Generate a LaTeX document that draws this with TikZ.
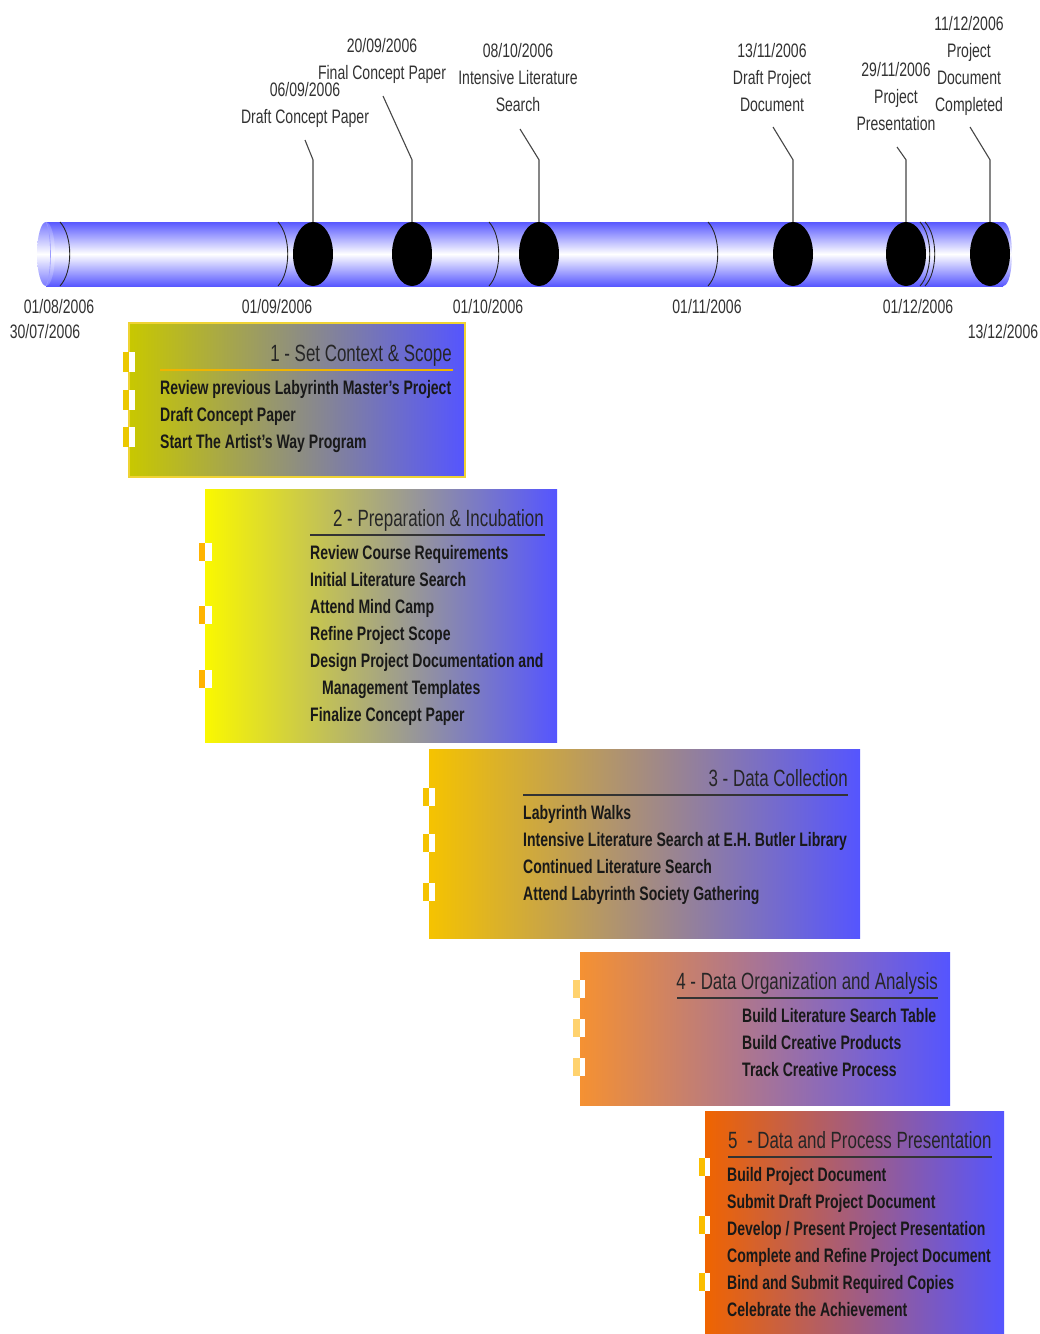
\documentclass[tikz,border=0pt]{standalone}
\usepackage{fontspec}
\newfontfamily\nar{Liberation Sans}[FakeStretch=0.72]
\usetikzlibrary{shapes.geometric}
\definecolor{cylblue}{RGB}{88,88,255}
\definecolor{boxblue}{RGB}{85,85,255}
\definecolor{leftA}{RGB}{200,200,0}
\definecolor{leftB}{RGB}{250,248,0}
\definecolor{leftC}{RGB}{245,195,0}
\definecolor{leftD}{RGB}{245,145,50}
\definecolor{leftE}{RGB}{240,100,0}
\definecolor{tabA}{RGB}{235,200,0}
\definecolor{tabB}{RGB}{255,180,0}
\definecolor{tabC}{RGB}{245,195,0}
\definecolor{tabD}{RGB}{255,210,110}
\definecolor{tabE}{RGB}{250,190,0}
\definecolor{linegray}{RGB}{70,70,70}
\definecolor{txtgray}{RGB}{50,50,50}
\definecolor{uline1}{RGB}{240,180,0}
\begin{document}
\begin{tikzpicture}[x=1pt,y=-1pt,
  lbl/.style={font=\nar\fontsize{19.5}{27}\selectfont, text=txtgray, align=center, inner sep=0pt},
  datelbl/.style={font=\nar\fontsize{19.5}{27}\selectfont, text=txtgray, inner sep=0pt},
  milestone/.style={ellipse, fill=black, minimum width=40pt, minimum height=64pt, inner sep=0pt},
  leader/.style={draw=linegray, line width=1.1pt},
  arcline/.style={draw=black!85, line width=0.9pt},
  ttl/.style={font=\nar\fontsize{23.5}{28}\selectfont, text=black!85, inner sep=0pt},
  items/.style={font=\nar\bfseries\fontsize{19.5}{27}\selectfont, text=black!90, align=left, inner sep=0pt, anchor=north west},
  uline/.style={line width=1.6pt}
]
\useasboundingbox (0,0) rectangle (1040,1334);
\fill[white] (0,0) rectangle (1040,1334);

% ---------- cylinder ----------
\shade[top color=cylblue, bottom color=cylblue, middle color=white] (46,222) rectangle (1003,286);
\shade[top color=cylblue, bottom color=cylblue, middle color=white]
  (1003,222) .. controls (1015,222) and (1015,286) .. (1003,286) -- cycle;
\shade[top color=cylblue!80, bottom color=cylblue!80, middle color=white]
  (46,254) ellipse [x radius=9, y radius=32];
\draw[cylblue!60!white, line width=0.6pt] (46,222) .. controls (52,232) and (52,276) .. (46,286);

% month arcs
\foreach \ax in {60,278,489,708,920}{
  \draw[arcline] (\ax,222) .. controls (\ax+13,236) and (\ax+13,272) .. (\ax,286);
}
\draw[arcline] (925,222) .. controls (938,236) and (938,272) .. (925,286);

% ---------- milestones ----------
\node[milestone] (m1) at (313,254) {};
\node[milestone] (m2) at (412,254) {};
\node[milestone] (m3) at (539,254) {};
\node[milestone] (m4) at (793,254) {};
\node[milestone] (m5) at (906,254) {};
\node[milestone] (m6) at (990,254) {};

\node[lbl, anchor=north] (L1) at (305,82) {06/09/2006\\Draft Concept Paper};
\node[lbl, anchor=north] (L2) at (382,38) {20/09/2006\\Final Concept Paper};
\node[lbl, anchor=north] (L3) at (518,43) {08/10/2006\\Intensive Literature\\Search};
\node[lbl, anchor=north] (L4) at (772,43) {13/11/2006\\Draft Project\\Document};
\node[lbl, anchor=north] (L5) at (896,62) {29/11/2006\\Project\\Presentation};
\node[lbl, anchor=north] (L6) at (969,16) {11/12/2006\\Project\\Document\\Completed};

\coordinate (e1) at (305,140);
\coordinate (e2) at (383,96);
\coordinate (e3) at (520,129);
\coordinate (e4) at (773,127);
\coordinate (e5) at (897,147);
\coordinate (e6) at (970,127);

\draw[leader] (m1.north) -- ++(0,-62) -- (e1);
\draw[leader] (m2.north) -- ++(0,-62) -- (e2);
\draw[leader] (m3.north) -- ++(0,-62) -- (e3);
\draw[leader] (m4.north) -- ++(0,-62) -- (e4);
\draw[leader] (m5.north) -- ++(0,-62) -- (e5);
\draw[leader] (m6.north) -- ++(0,-62) -- (e6);

% ---------- axis dates ----------
\node[datelbl] (d1) at (59,307) {01/08/2006};
\node[datelbl] (d0) at (45,332) {30/07/2006};
\node[datelbl] (d2) at (277,307) {01/09/2006};
\node[datelbl] (d3) at (488,307) {01/10/2006};
\node[datelbl] (d4) at (707,307) {01/11/2006};
\node[datelbl] (d5) at (918,307) {01/12/2006};
\node[datelbl] (d6) at (1003,332) {13/12/2006};

% ---------- box 1 ----------
\shade[left color=leftA, right color=boxblue] (129,323) rectangle (465,477);
\draw[tabA!80!white, line width=1.6pt] (129,323) rectangle (465,477);
\foreach \ty in {362,400,437}{
  \fill[tabA] (123,\ty-10) rectangle (129,\ty+10);
  \fill[white] (129,\ty-10) rectangle (135,\ty+10);
}
\node[ttl, anchor=base east] (t1) at (452,361) {1 - Set Context \& Scope};
\draw[uline, uline1] (160,370) -- (453,370);
\node[items] (i1) at (160,380) {Review previous Labyrinth Master’s Project\\Draft Concept Paper\\Start The Artist’s Way Program};

% ---------- box 2 ----------
\shade[left color=leftB, right color=boxblue] (205,489) rectangle (557,742);
\foreach \ty in {552,615,679}{
  \fill[tabB] (199,\ty-9) rectangle (205,\ty+9);
  \fill[white] (205,\ty-9) rectangle (212,\ty+9);
}
\node[ttl, anchor=base east] (t2) at (544,526) {2 - Preparation \& Incubation};
\draw[uline, black!80] (310,535) -- (545,535);
\node[items] (i2) at (310,545) {Review Course Requirements\\Initial Literature Search\\Attend Mind Camp\\Refine Project Scope\\Design Project Documentation and\\\hspace*{12pt}Management Templates\\Finalize Concept Paper};

% ---------- box 3 ----------
\shade[left color=leftC, right color=boxblue] (429,749) rectangle (860,938);
\foreach \ty in {797,843,892}{
  \fill[tabC] (423,\ty-9) rectangle (429,\ty+9);
  \fill[white] (429,\ty-9) rectangle (435,\ty+9);
}
\node[ttl, anchor=base east] (t3) at (848,786) {3 - Data Collection};
\draw[uline, black!80] (523,795) -- (848,795);
\node[items] (i3) at (523,805) {Labyrinth Walks\\Intensive Literature Search at E.H. Butler Library\\Continued Literature Search\\Attend Labyrinth Society Gathering};

% ---------- box 4 ----------
\shade[left color=leftD, right color=boxblue] (580,952) rectangle (950,1105);
\foreach \ty in {989,1028,1067}{
  \fill[tabD] (573,\ty-9) rectangle (580,\ty+9);
  \fill[white] (580,\ty-9) rectangle (585,\ty+9);
}
\node[ttl, anchor=base east] (t4) at (938,989) {4 - Data Organization and Analysis};
\draw[uline, black!80] (677,998) -- (938,998);
\node[items] (i4) at (742,1008) {Build Literature Search Table\\Build Creative Products\\Track Creative Process};

% ---------- box 5 ----------
\shade[left color=leftE, right color=boxblue] (705,1111) rectangle (1004,1334);
\foreach \ty in {1167,1225,1282}{
  \fill[tabE] (699,\ty-9) rectangle (705,\ty+9);
  \fill[white] (705,\ty-9) rectangle (710,\ty+9);
}
\node[ttl, anchor=base west] (t5) at (728,1148) {5\ \ - Data and Process Presentation};
\draw[uline, black!80] (728,1157) -- (992,1157);
\node[items] (i5) at (727,1167) {Build Project Document\\Submit Draft Project Document\\Develop / Present Project Presentation\\Complete and Refine Project Document\\Bind and Submit Required Copies\\Celebrate the Achievement};
\end{tikzpicture}
\end{document}
